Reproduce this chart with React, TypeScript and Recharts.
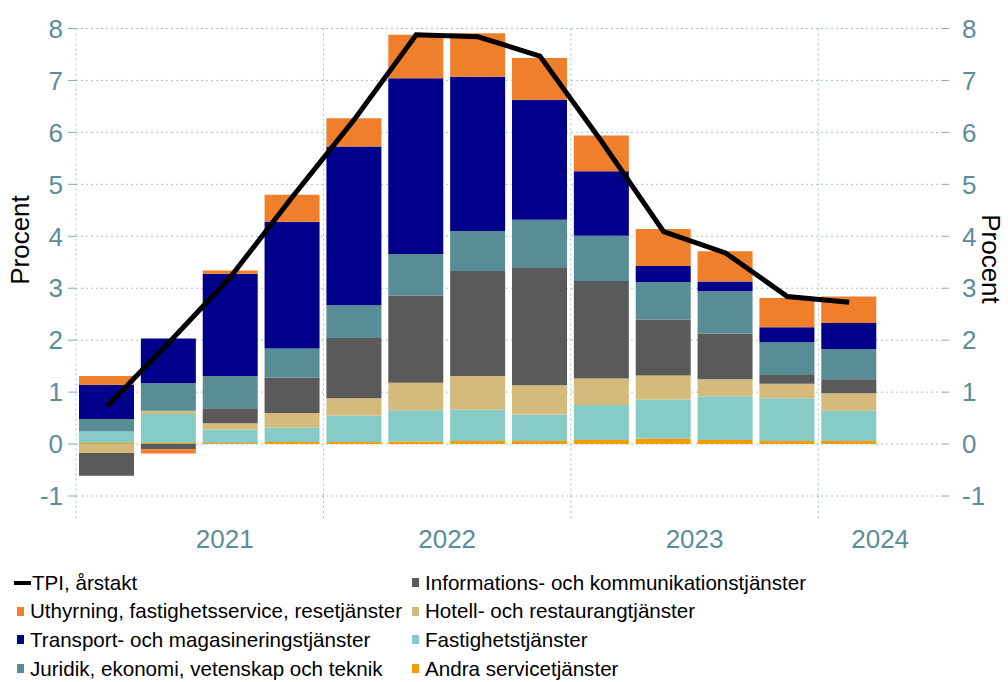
import React from "react";
import {
  ComposedChart,
  Bar,
  Line,
  XAxis,
  YAxis,
  CartesianGrid,
  Legend,
} from "recharts";

// Kvartal 2021K1 - 2024K2 (sista kvartalet tomt)
const quarters = [
  "2021K1", "2021K2", "2021K3", "2021K4",
  "2022K1", "2022K2", "2022K3", "2022K4",
  "2023K1", "2023K2", "2023K3", "2023K4",
  "2024K1", "2024K2",
];
// årsetikett placeras mellan två kvartal (efter kvartalet där den står)
const yearLabels = ["", "2021", "", "", "", "2022", "", "", "", "2023", "", "", "2024", ""];
const yearLabelShift = [0, 25, 0, 0, 0, 0, 0, 0, 0, 0, 0, 0, 0, 0];

const andra = [0.02, 0.02, 0.02, 0.04, 0.04, 0.05, 0.06, 0.06, 0.08, 0.1, 0.08, 0.06, 0.06];
const fastighet = [0.22, 0.56, 0.26, 0.28, 0.51, 0.6, 0.6, 0.51, 0.67, 0.76, 0.84, 0.82, 0.58];
const hotell = [-0.17, 0.06, 0.12, 0.28, 0.33, 0.53, 0.65, 0.56, 0.51, 0.46, 0.33, 0.28, 0.34];
const info = [-0.44, -0.1, 0.29, 0.68, 1.16, 1.68, 2.02, 2.26, 1.88, 1.08, 0.88, 0.17, 0.27];
const juridik = [0.24, 0.53, 0.62, 0.56, 0.63, 0.8, 0.77, 0.93, 0.87, 0.72, 0.81, 0.63, 0.58];
const transport = [0.66, 0.86, 1.97, 2.44, 3.06, 3.38, 2.97, 2.31, 1.24, 0.31, 0.19, 0.29, 0.5];
const uthyrning = [0.17, -0.08, 0.06, 0.52, 0.54, 0.84, 0.84, 0.8, 0.69, 0.71, 0.58, 0.56, 0.51];
const tpi = [0.73, 1.95, 3.22, 4.76, 6.25, 7.88, 7.84, 7.47, 5.82, 4.09, 3.68, 2.84, 2.73];

const yTicks = [-1, 0, 1, 2, 3, 4, 5, 6, 7, 8];

const FONT = "'Liberation Sans', Arial, sans-serif";
const AXIS_COLOR = "#5b8d98";
const GRID_COLOR = "#a3c3cb";

const W = 1008;
const H = 682;
const LEFT = 76;
const RIGHT = 942;
const BAND = (RIGHT - LEFT) / quarters.length;

// serier i staplingsordning (nederst först)
const series = [
  { key: "andra", name: "Andra servicetjänster", color: "#f59c00", values: andra },
  { key: "fastighet", name: "Fastighetstjänster", color: "#86cbc6", values: fastighet },
  { key: "hotell", name: "Hotell- och restaurangtjänster", color: "#d5bb7b", values: hotell },
  { key: "info", name: "Informations- och kommunikationstjänster", color: "#5a5a5a", values: info },
  { key: "juridik", name: "Juridik, ekonomi, vetenskap och teknik", color: "#588d96", values: juridik },
  { key: "transport", name: "Transport- och magasineringstjänster", color: "#00008b", values: transport },
  { key: "uthyrning", name: "Uthyrning, fastighetsservice, resetjänster", color: "#f07f2c", values: uthyrning },
];

const data = quarters.map((q, i) => {
  const row: Record<string, any> = { quarter: q, tpi: tpi[i] ?? null };
  series.forEach((s) => {
    row[s.key] = s.values[i] ?? null;
  });
  return row;
});

const legendLeft = ["tpi", "uthyrning", "transport", "juridik"];
const legendRight = ["info", "hotell", "fastighet", "andra"];

function LegendItem({ k }: { k: string }) {
  if (k === "tpi") {
    return (
      <div style={{ height: 28.6, display: "flex", alignItems: "center" }}>
        <span style={{ display: "inline-block", width: 17, height: 4, background: "#000", marginLeft: 14, marginRight: 1 }} />
        <span>TPI, årstakt</span>
      </div>
    );
  }
  const s = series.find((x) => x.key === k)!;
  return (
    <div style={{ height: 28.6, display: "flex", alignItems: "center" }}>
      <span style={{ display: "inline-block", width: 7, height: 9, background: s.color, marginLeft: 17, marginRight: 6 }} />
      <span>{s.name}</span>
    </div>
  );
}

function ChartLegend() {
  return (
    <div style={{ position: "relative", height: 126, fontFamily: FONT, fontSize: 20.6, color: "#000", whiteSpace: "nowrap" }}>
      <div style={{ position: "absolute", left: 0, top: 12.5 }}>
        {legendLeft.map((k) => (
          <LegendItem key={k} k={k} />
        ))}
      </div>
      <div style={{ position: "absolute", left: 395, top: 12.5 }}>
        {legendRight.map((k) => (
          <LegendItem key={k} k={k} />
        ))}
      </div>
    </div>
  );
}

function YearTick(props: any) {
  const { x, y, payload } = props;
  const i = payload.index;
  const top = y - 8;
  return (
    <g>
      {i % 4 === 0 && (
        <line x1={x - BAND / 2} x2={x - BAND / 2} y1={top} y2={top + 24} stroke={GRID_COLOR} strokeDasharray="2 3" />
      )}
      {yearLabels[i] && (
        <text x={x + BAND / 2 + yearLabelShift[i]} y={y + 44} textAnchor="middle" fill={AXIS_COLOR} fontSize={26} fontFamily={FONT}>
          {yearLabels[i]}
        </text>
      )}
    </g>
  );
}

function LeftLabel() {
  return (
    <text x={29} y={240} transform="rotate(-90 29 240)" textAnchor="middle" fill="#000" fontSize={26} fontFamily={FONT}>
      Procent
    </text>
  );
}

function RightLabel() {
  return (
    <text x={982} y={259} transform="rotate(90 982 259)" textAnchor="middle" fill="#000" fontSize={26} fontFamily={FONT}>
      Procent
    </text>
  );
}

export default function App() {
  return (
    <div style={{ position: "absolute", left: 0, top: 0, width: W, height: H, background: "#fff" }}>
      <ComposedChart
        width={W}
        height={H}
        data={data}
        stackOffset="sign"
        barSize={55}
        margin={{ top: 28.5, right: 0, bottom: 0, left: 0 }}
      >
        <CartesianGrid
          stroke={GRID_COLOR}
          strokeDasharray="2 3"
          yAxisId="left"
          verticalCoordinatesGenerator={({ offset }: any) =>
            [0, 4, 8, 12].map((k) => offset.left + k * ((offset.width as number) / quarters.length))
          }
        />
        <XAxis
          dataKey="quarter"
          interval={0}
          height={60}
          axisLine={false}
          tickLine={false}
          tick={<YearTick />}
        />
        <YAxis
          yAxisId="left"
          width={LEFT}
          domain={[-1, 8]}
          ticks={yTicks}
          allowDataOverflow
          axisLine={false}
          tickSize={8}
          tickMargin={5}
          tickLine={{ stroke: "#86aab3" }}
          tick={{ fill: AXIS_COLOR, fontSize: 26, fontFamily: FONT }}
          label={<LeftLabel />}
        />
        <YAxis
          yAxisId="right"
          orientation="right"
          width={W - RIGHT}
          domain={[-1, 8]}
          ticks={yTicks}
          allowDataOverflow
          axisLine={false}
          tickSize={7}
          tickMargin={13}
          tickLine={{ stroke: "#86aab3" }}
          tick={{ fill: AXIS_COLOR, fontSize: 26, fontFamily: FONT }}
          label={<RightLabel />}
        />
        <Legend verticalAlign="bottom" content={<ChartLegend />} wrapperStyle={{ left: 0, width: W, bottom: 0 }} />
        {series.map((s) => (
          <Bar
            key={s.key}
            yAxisId="left"
            dataKey={s.key}
            name={s.name}
            stackId="a"
            fill={s.color}
            isAnimationActive={false}
          />
        ))}
        <Line
          yAxisId="right"
          dataKey="tpi"
          name="TPI, årstakt"
          type="linear"
          stroke="#000"
          strokeWidth={5}
          dot={false}
          activeDot={false}
          isAnimationActive={false}
        />
      </ComposedChart>
    </div>
  );
}
